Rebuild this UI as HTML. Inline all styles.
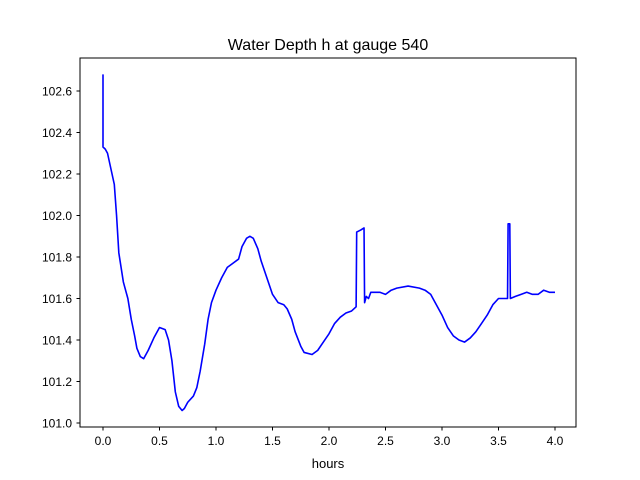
<!DOCTYPE html>
<html><head><meta charset="utf-8"><style>
body{margin:0;background:#fff;}
svg{display:block;font-family:"Liberation Sans","DejaVu Sans",sans-serif;}
</style></head><body>
<svg id="chart" width="640" height="480">
<rect width="640" height="480" fill="#fff"/>
<text x="328" y="50" font-size="16" text-anchor="middle">Water Depth h at gauge 540</text>
<g id="plot"></g>
<rect x="80" y="58" width="496" height="369" fill="none" stroke="#000" stroke-width="1"/>
<text x="328" y="468" font-size="13" text-anchor="middle">hours</text>
</svg>
<script>
const hours=[0,0,0.02,0.04,0.06,0.1,0.12,0.14,0.16,0.18,0.22,0.25,0.28,0.3,0.33,0.36,0.4,0.45,0.5,0.55,0.58,0.61,0.64,0.67,0.7,0.72,0.75,0.8,0.83,0.86,0.9,0.93,0.96,1.0,1.05,1.1,1.15,1.2,1.23,1.27,1.3,1.33,1.37,1.4,1.45,1.5,1.55,1.6,1.63,1.67,1.7,1.75,1.78,1.85,1.9,1.95,2.0,2.05,2.1,2.15,2.2,2.24,2.245,2.28,2.31,2.315,2.33,2.35,2.37,2.45,2.5,2.55,2.6,2.7,2.8,2.85,2.9,2.95,3.0,3.05,3.1,3.15,3.2,3.25,3.3,3.35,3.4,3.45,3.5,3.55,3.58,3.585,3.6,3.605,3.65,3.7,3.75,3.8,3.85,3.9,3.95,4.0];
const depth=[102.68,102.33,102.32,102.30,102.25,102.15,102.0,101.82,101.75,101.68,101.6,101.5,101.42,101.36,101.32,101.31,101.35,101.41,101.46,101.45,101.4,101.3,101.15,101.08,101.06,101.07,101.1,101.13,101.17,101.25,101.38,101.5,101.58,101.64,101.7,101.75,101.77,101.79,101.85,101.89,101.9,101.89,101.84,101.78,101.7,101.62,101.58,101.57,101.55,101.5,101.44,101.37,101.34,101.33,101.35,101.39,101.43,101.48,101.51,101.53,101.54,101.56,101.92,101.93,101.94,101.58,101.61,101.6,101.63,101.63,101.62,101.64,101.65,101.66,101.65,101.64,101.62,101.57,101.52,101.46,101.42,101.4,101.39,101.41,101.44,101.48,101.52,101.57,101.6,101.6,101.6,101.96,101.96,101.6,101.61,101.62,101.63,101.62,101.62,101.64,101.63,101.63];
const xTicks=[0.0,0.5,1.0,1.5,2.0,2.5,3.0,3.5,4.0];
const yTicks=[101.0,101.2,101.4,101.6,101.8,102.0,102.2,102.4,102.6];
const xs=v=>103+v*113;
const ys=v=>91+(102.6-v)*207.5;
const NS="http://www.w3.org/2000/svg";
const g=document.getElementById('plot');
function mk(t,a){const e=document.createElementNS(NS,t);for(const k in a)e.setAttribute(k,a[k]);g.appendChild(e);return e;}
xTicks.forEach(t=>{
  const l=mk('line',{x1:xs(t),x2:xs(t),y1:427,y2:430.5,stroke:'#000'});
  
  
  const tx=mk('text',{x:xs(t),y:445,'font-size':12,'text-anchor':'middle'});
  tx.textContent=t.toFixed(1);
  
  
});
yTicks.forEach(t=>{
  const l=mk('line',{x1:76.5,x2:80,y1:ys(t),y2:ys(t),stroke:'#000'});
  
  
  const tx=mk('text',{x:72,y:ys(t)+4.5,'font-size':12,'text-anchor':'end'});
  tx.textContent=t.toFixed(1);
  
  
});
const p=mk('polyline',{points:hours.map((h,i)=>xs(h)+','+ys(depth[i])).join(' '),fill:'none',stroke:'#0000ff','stroke-width':1.6,'stroke-linejoin':'round'});


</script>
</body></html>
